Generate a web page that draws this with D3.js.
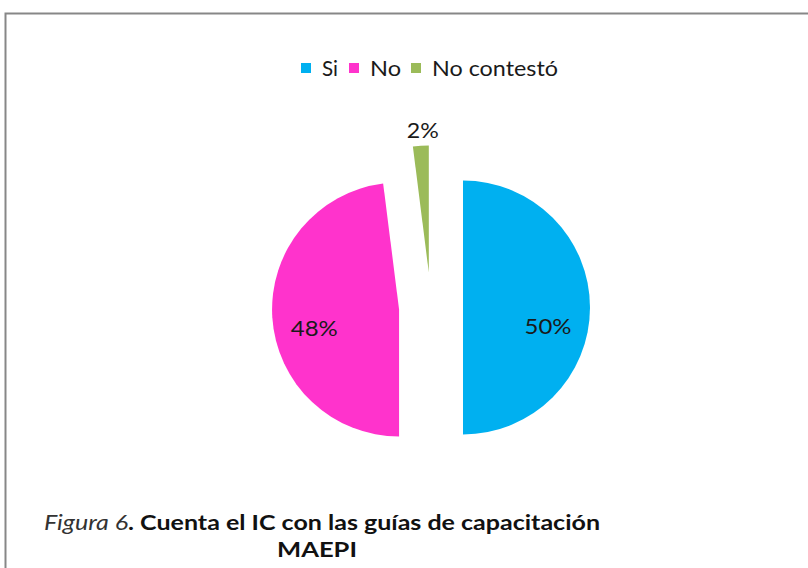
<!DOCTYPE html>
<html>
<head>
<meta charset="utf-8">
<script src="https://cdn.jsdelivr.net/npm/d3@7"></script>
<style>
  html, body { margin: 0; padding: 0; background: #fff; }
  svg { display: block; }
</style>
</head>
<body>
<svg id="chart" width="808" height="568"></svg>
<script>
// ---- data ----
const categories = ["Si", "No", "No contestó"];
const values = [50, 48, 2];
const percentLabels = ["50%", "48%", "2%"];
const captionItalic = "Figura 6";
const captionBold = ". Cuenta el IC con las guías de capacitación";
const captionLine2 = "MAEPI";

// ---- style ----
const colors = ["#00B0F0", "#FF33CC", "#9BBB59"];
const explode = [32, 32, 35];
const FONT = "Lato, 'Open Sans', 'DejaVu Sans', sans-serif";

const svg = d3.select("#chart");

// frame
svg.append("rect")
  .attr("x", 5.5).attr("y", 13.5)
  .attr("width", 840).attr("height", 620)
  .attr("fill", "#fff")
  .attr("stroke", "#878787")
  .attr("stroke-width", 2);

const cx = 431, cy = 307.5, R = 127;

const pie = d3.pie().sort(null).value(d => d)(values);
const arc = d3.arc().innerRadius(0).outerRadius(R);
const color = d3.scaleOrdinal().domain(categories).range(colors);

const g = svg.append("g").attr("transform", `translate(${cx},${cy})`);

const offset = (d, i) => {
  const a = (d.startAngle + d.endAngle) / 2;
  return [Math.sin(a) * explode[i], -Math.cos(a) * explode[i]];
};

g.selectAll("path.slice")
  .data(pie)
  .join("path")
  .attr("class", "slice")
  .attr("d", arc)
  .attr("fill", (d, i) => color(categories[i]))
  .attr("transform", (d, i) => {
    const [ox, oy] = offset(d, i);
    return `translate(${ox},${oy})`;
  });

// labels
const insideArc = d3.arc().innerRadius(85).outerRadius(85);
const outsideArc = d3.arc().innerRadius(R + 16).outerRadius(R + 16);
g.selectAll("text.lbl")
  .data(pie)
  .join("text")
  .attr("class", "lbl")
  .attr("transform", (d, i) => {
    const [ox, oy] = offset(d, i);
    const inside = (d.endAngle - d.startAngle) > 0.5;
    if (inside) {
      const [lx] = insideArc.centroid(d);
      return `translate(${ox + lx},${oy + 19})`;
    }
    const [lx, ly] = outsideArc.centroid(d);
    return `translate(${ox + lx + 3},${oy + ly})`;
  })
  .attr("text-anchor", "middle")
  .attr("dy", "0.35em")
  .attr("font-family", FONT)
  .attr("font-size", 22)
  .attr("textLength", (d, i) => percentLabels[i].length === 3 ? 47 : 32)
  .attr("lengthAdjust", "spacingAndGlyphs")
  .attr("fill", "#1a1a1a")
  .text((d, i) => percentLabels[i]);

// legend
const legend = svg.append("g").attr("class", "legend");
const legendText = { "Si": 16, "No": 31, "No contestó": 126 };
const legendX = [301, 349, 411];
categories.forEach((c, i) => {
  legend.append("rect")
    .attr("x", legendX[i]).attr("y", 63)
    .attr("width", 10).attr("height", 10)
    .attr("fill", colors[i]);
  legend.append("text")
    .attr("x", legendX[i] + 21).attr("y", 68.5)
    .attr("dy", "0.35em")
    .attr("font-family", FONT)
    .attr("font-size", 21)
    .attr("textLength", legendText[c])
    .attr("lengthAdjust", "spacingAndGlyphs")
    .attr("fill", "#1a1a1a")
    .text(c);
});

// caption
const cap = svg.append("text")
  .attr("x", 322).attr("y", 523)
  .attr("dy", "0.35em")
  .attr("text-anchor", "middle")
  .attr("font-family", FONT)
  .attr("font-size", 21)
  .attr("fill", "#111");
cap.append("tspan").attr("font-style", "italic").attr("fill", "#333").text(captionItalic);
cap.append("tspan").attr("font-weight", "bold").text(captionBold);
cap.attr("textLength", 556).attr("lengthAdjust", "spacingAndGlyphs");

svg.append("text")
  .attr("x", 317).attr("y", 550)
  .attr("dy", "0.35em")
  .attr("text-anchor", "middle")
  .attr("font-family", FONT)
  .attr("font-size", 21)
  .attr("font-weight", "bold")
  .attr("textLength", 80)
  .attr("lengthAdjust", "spacingAndGlyphs")
  .attr("fill", "#111")
  .text(captionLine2);
</script>
</body>
</html>
